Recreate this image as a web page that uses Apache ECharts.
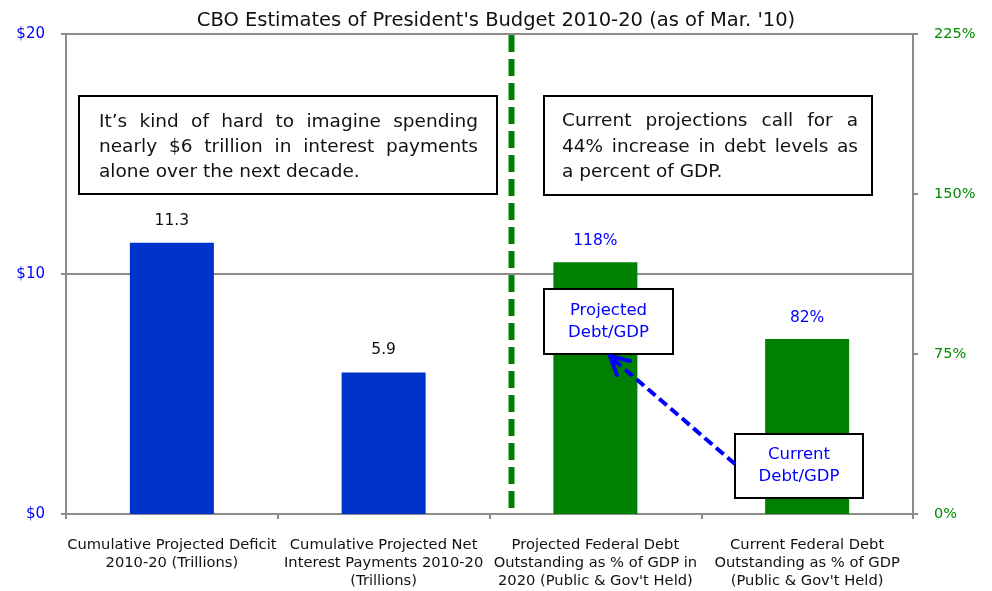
<!DOCTYPE html>
<html>
<head>
<meta charset="utf-8">
<script src="https://cdn.jsdelivr.net/npm/echarts@6/dist/echarts.min.js"></script>
<style>html,body{margin:0;padding:0;background:#fff}#c{width:992px;height:591px}</style>
</head>
<body>
<div id="c"></div>
<script>
const FONT = 'DejaVu Sans';
const titleText = "CBO Estimates of President's Budget 2010-20 (as of Mar. '10)";
const categories = [
  'Cumulative Projected Deficit\n2010-20 (Trillions)',
  'Cumulative Projected Net\nInterest Payments 2010-20\n(Trillions)',
  'Projected Federal Debt\nOutstanding as % of GDP in\n2020 (Public & Gov\'t Held)',
  'Current Federal Debt\nOutstanding as % of GDP\n(Public & Gov\'t Held)'
];
const dollarValues = [11.3, 5.9, '-', '-'];
const pctValues = ['-', '-', 118, 82];
const leftTicks = { min: 0, max: 20, interval: 10 };
const rightTicks = { min: 0, max: 225, interval: 75 };
const box1Lines = ["It\u2019s kind of hard to imagine spending", "nearly $6 trillion in interest payments", "alone over the next decade."];
const box2Lines = ["Current projections call for a", "44% increase in debt levels as", "a percent of GDP."];
const box3Text = 'Projected\nDebt/GDP';
const box4Text = 'Current\nDebt/GDP';

const chart = echarts.init(document.getElementById('c'));
const gray = '#8c8c8c';
const option = {
  animation: false,
  textStyle: { fontFamily: FONT },
  title: { text: titleText, left: 'center', top: 6, textStyle: { fontFamily: FONT, fontSize: 19.5, fontWeight: 'normal', color: '#111' } },
  grid: { left: 66, right: 79, top: 34, bottom: 77 },
  xAxis: {
    type: 'category', data: categories,
    axisLine: { lineStyle: { color: gray, width: 2 } },
    axisTick: { show: true, length: 5, lineStyle: { color: gray, width: 2 } },
    axisLabel: { interval: 0, color: '#111', fontSize: 14.7, lineHeight: 18, margin: 22, fontFamily: FONT }
  },
  yAxis: [
    { type: 'value', position: 'left', min: leftTicks.min, max: leftTicks.max, interval: leftTicks.interval,
      axisLine: { show: true, lineStyle: { color: gray, width: 2 } },
      axisTick: { show: true, length: 5, lineStyle: { color: gray, width: 2 } },
      splitLine: { show: true, lineStyle: { color: gray, width: 2 } },
      axisLabel: { formatter: v => '$' + v, color: '#0000ff', fontSize: 15, margin: 21, fontFamily: FONT } },
    { type: 'value', position: 'right', min: rightTicks.min, max: rightTicks.max, interval: rightTicks.interval,
      axisLine: { show: true, lineStyle: { color: gray, width: 2 } },
      axisTick: { show: true, length: 5, lineStyle: { color: gray, width: 2 } },
      splitLine: { show: false },
      axisLabel: { formatter: v => v + '%', color: '#008a00', fontSize: 14.5, margin: 21, fontFamily: FONT } }
  ],
  series: [
    { type: 'bar', yAxisIndex: 0, data: dollarValues, barWidth: 84, barGap: '-100%',
      itemStyle: { color: '#0033cc' },
      label: { show: true, position: 'top', distance: 14, color: '#111', fontSize: 15.5, fontFamily: FONT, formatter: p => p.value } },
    { type: 'bar', yAxisIndex: 1, data: pctValues, barWidth: 84,
      itemStyle: { color: '#008000' },
      label: { show: true, position: 'top', distance: 13, color: '#0000ff', fontSize: 15.5, fontFamily: FONT, formatter: p => p.value + '%' } }
  ]
};
chart.setOption(option);

const ctx = document.createElement('canvas').getContext('2d');
function fontStr(size) { return size + 'px "' + FONT + '", sans-serif'; }
function justifiedLines(lines, left, right, ys, size) {
  ctx.font = fontStr(size);
  const els = [];
  lines.forEach((line, i) => {
    const words = line.split(' ');
    const last = i === lines.length - 1;
    const widths = words.map(w => ctx.measureText(w).width);
    const total = widths.reduce((a, b) => a + b, 0);
    const gap = last ? ctx.measureText(' ').width : (right - left - total) / (words.length - 1);
    let x = left;
    words.forEach((w, j) => {
      els.push({ type: 'text', z: 100, x: x, y: ys[i], style: { text: w, font: fontStr(size), fill: '#111', verticalAlign: 'middle', align: 'left' } });
      x += widths[j] + gap;
    });
  });
  return els;
}
function box(x, y, w, h) {
  return { type: 'rect', z: 90, shape: { x: x, y: y, width: w, height: h }, style: { fill: '#fff', stroke: '#000', lineWidth: 2 } };
}

const yTop = chart.convertToPixel({ yAxisIndex: 0 }, leftTicks.max);
const yBot = chart.convertToPixel({ yAxisIndex: 0 }, leftTicks.min);
const divX = 511.5;

const graphics = [
  { type: 'line', z: 80, shape: { x1: divX, y1: yTop + 1, x2: divX, y2: yBot - 6 }, style: { stroke: '#008000', lineWidth: 6, lineDash: [17, 7] } },
  box(79, 96, 418, 98),
  box(544, 96, 328, 99),
  ...justifiedLines(box1Lines, 99, 478, [122, 147, 172], 18.5),
  ...justifiedLines(box2Lines, 562, 858, [121, 147, 172], 18.5),
  box(544, 289, 129, 65),
  { type: 'text', z: 100, x: 608.5, y: 322, style: { text: box3Text, font: fontStr(16.5), fill: '#0000ff', align: 'center', verticalAlign: 'middle', lineHeight: 22 } },
  { type: 'line', z: 95, shape: { x1: 735, y1: 464, x2: 613, y2: 359 }, style: { stroke: '#0000ff', lineWidth: 4, lineDash: [10, 5] } },
  { type: 'polyline', z: 95, shape: { points: [[630, 361], [610, 356], [617, 375]] }, style: { stroke: '#0000ff', lineWidth: 4, fill: null, lineCap: 'round', lineJoin: 'round' } },
  box(735, 434, 128, 64),
  { type: 'text', z: 100, x: 799, y: 466, style: { text: box4Text, font: fontStr(16.5), fill: '#0000ff', align: 'center', verticalAlign: 'middle', lineHeight: 22 } }
];
chart.setOption({ graphic: graphics });
</script>
</body>
</html>
